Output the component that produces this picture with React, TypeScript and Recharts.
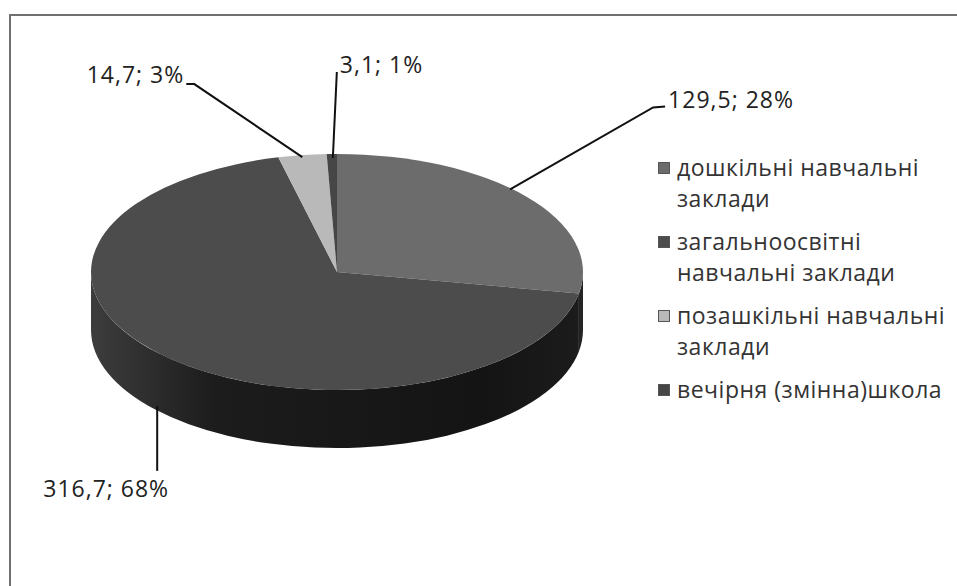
import React from "react";
import { PieChart, Pie, Cell, Legend } from "recharts";

// обсяг видатків за типами закладів
const categories = [
  "дошкільні навчальні заклади",
  "загальноосвітні навчальні заклади",
  "позашкільні навчальні заклади",
  "вечірня (змінна)школа",
];
const values = [129.5, 316.7, 14.7, 3.1];

const topColors = ["#6c6c6c", "#4c4c4c", "#b9b9b9", "#464646"];
const sideColors = ["#242424", "#1c1c1c", "#6a6a6a", "#222222"];

const data = categories.map((name, i) => ({ name, value: values[i] }));

const TILT = 0.48; // ry / rx
const DEPTH = 58;
const LABEL_FONT = "'Open Sans', 'Noto Sans', sans-serif";

// leader line layout relative to the rim point at midAngle
const labelLayout = [
  { start: [-16, -7], elbow: [127, -89], end: [139, -90], text: [142, -88], anchor: "start" },
  { start: [-11, 48], elbow: [-11, 113], end: [-11, 113], text: [-62, 139], anchor: "middle" },
  { start: [0, 2], elbow: [-108, -71], end: [-116, -71], text: [-118, -72], anchor: "end" },
  { start: [1, 4], elbow: [5, -82], end: [5, -82], text: [8, -81], anchor: "start" },
];

const RAD = Math.PI / 180;

function pt(cx: number, cy: number, rx: number, ry: number, a: number) {
  return [cx + rx * Math.cos(a * RAD), cy - ry * Math.sin(a * RAD)];
}

function Slice3D(props: any) {
  const { cx, cy, outerRadius, startAngle, endAngle, fill, index } = props;
  const rx = outerRadius;
  const ry = outerRadius * TILT;
  const s = Math.max(startAngle, endAngle);
  const e = Math.min(startAngle, endAngle);
  const [x1, y1] = pt(cx, cy, rx, ry, s);
  const [x2, y2] = pt(cx, cy, rx, ry, e);
  const large = s - e > 180 ? 1 : 0;
  const top = `M${cx},${cy} L${x1},${y1} A${rx},${ry} 0 ${large} 1 ${x2},${y2} Z`;

  const sides: string[] = [];
  for (const k of [-1, 0, 1]) {
    const hi = Math.min(s, 360 * k);
    const lo = Math.max(e, -180 + 360 * k);
    if (hi > lo) {
      const [ax, ay] = pt(cx, cy, rx, ry, hi);
      const [bx, by] = pt(cx, cy, rx, ry, lo);
      sides.push(
        `M${ax},${ay} A${rx},${ry} 0 0 1 ${bx},${by} L${bx},${by + DEPTH} A${rx},${ry} 0 0 0 ${ax},${ay + DEPTH} Z`
      );
    }
  }
  const gid = `side-grad-${index}`;
  const side = sideColors[index] ?? "#222";

  return (
    <g>
      <defs>
        <linearGradient id={gid} gradientUnits="userSpaceOnUse" x1={cx - rx} y1={0} x2={cx + rx} y2={0}>
          <stop offset="0%" stopColor="#3d3d3d" />
          <stop offset="25%" stopColor={side} />
          <stop offset="80%" stopColor="#141414" />
          <stop offset="100%" stopColor={side} />
        </linearGradient>
      </defs>
      {sides.map((d, i) => (
        <path key={i} d={d} fill={`url(#${gid})`} stroke="none" />
      ))}
      <path d={top} fill={fill} stroke="none" />
    </g>
  );
}

function renderLabel(props: any) {
  const { cx, cy, outerRadius, midAngle, index, value, percent } = props;
  const rx = outerRadius;
  const ry = outerRadius * TILT;
  const [ax, ay] = pt(cx, cy, rx, ry, midAngle);
  const l = labelLayout[index];
  const p = (o: number[]) => `${ax + o[0]},${ay + o[1]}`;
  const text = `${String(value).replace(".", ",")}; ${Math.round(percent * 100)}%`;
  return (
    <g key={`lbl-${index}`}>
      <polyline
        points={`${p(l.start)} ${p(l.elbow)} ${p(l.end)}`}
        fill="none"
        stroke="#111"
        strokeWidth={2}
      />
      <text
        x={ax + l.text[0]}
        y={ay + l.text[1]}
        textAnchor={l.anchor}
        fill="#222"
        fontSize={23}
        letterSpacing={1}
        fontFamily={LABEL_FONT}
      >
        {text}
      </text>
    </g>
  );
}

function LegendContent() {
  return (
    <div
      style={{
        fontFamily: LABEL_FONT,
        fontSize: 23,
        letterSpacing: 0.5,
        color: "#333",
        lineHeight: "31px",
      }}
    >
      {data.map((d, i) => (
        <div key={d.name} style={{ display: "flex", alignItems: "flex-start", marginBottom: 12 }}>
          <div
            style={{
              width: 12,
              height: 12,
              marginTop: 10,
              marginRight: 7,
              flexShrink: 0,
              background: topColors[i],
              border: "1px solid #555",
              boxSizing: "border-box",
            }}
          />
          <span style={{ width: 272 }}>{d.name}</span>
        </div>
      ))}
    </div>
  );
}

export default function App() {
  return (
    <div
      style={{
        position: "absolute",
        left: 0,
        top: 0,
        width: 957,
        height: 586,
        background: "#fff",
        overflow: "hidden",
      }}
    >
      <div
        style={{
          position: "absolute",
          left: 9,
          top: 14,
          width: 960,
          height: 600,
          border: "2px solid #707070",
          boxSizing: "border-box",
        }}
      />
      <PieChart width={957} height={586} style={{ position: "absolute", left: 0, top: 0 }}>
        <Pie
          data={data}
          dataKey="value"
          nameKey="name"
          cx={332}
          cy={267}
          outerRadius={246}
          startAngle={90}
          endAngle={-270}
          stroke="none"
          isAnimationActive={false}
          label={renderLabel}
          labelLine={false}
          shape={Slice3D}
          inactiveShape={Slice3D}
          activeShape={Slice3D}
        >
          {data.map((d, i) => (
            <Cell key={d.name} fill={topColors[i]} />
          ))}
        </Pie>
        <Legend
          layout="vertical"
          align="right"
          verticalAlign="top"
          content={LegendContent}
          wrapperStyle={{ left: 658, top: 152, width: 299 }}
        />
      </PieChart>
    </div>
  );
}
